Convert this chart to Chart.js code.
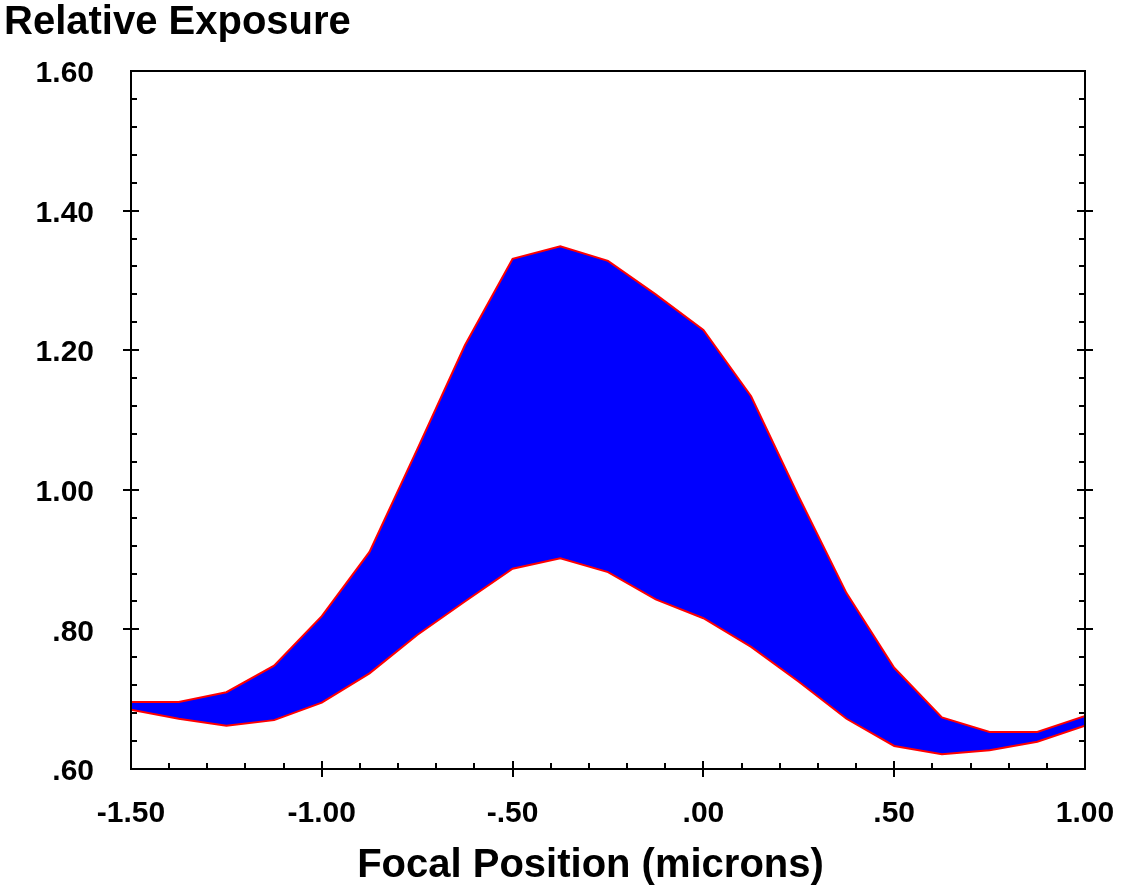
<!DOCTYPE html>
<html>
<head>
<meta charset="utf-8">
<script src="https://cdn.jsdelivr.net/npm/chart.js@4"></script>
<style>
  html, body { margin: 0; padding: 0; background: #fff; }
  #wrap { width: 1122px; height: 888px; }
</style>
</head>
<body>
<div id="wrap"><canvas id="c" width="1122" height="888"></canvas></div>
<script>
// ---- data ----
const focalPositions = [-1.5, -1.375, -1.25, -1.125, -1.0, -0.875, -0.75, -0.625, -0.5, -0.375, -0.25, -0.125, 0.0, 0.125, 0.25, 0.375, 0.5, 0.625, 0.75, 0.875, 1.0];
const upperExposure = [0.696, 0.696, 0.710, 0.748, 0.819, 0.911, 1.058, 1.207, 1.331, 1.349, 1.328, 1.280, 1.229, 1.134, 0.990, 0.852, 0.745, 0.674, 0.653, 0.653, 0.676];
const lowerExposure = [0.685, 0.672, 0.662, 0.670, 0.695, 0.737, 0.792, 0.840, 0.887, 0.902, 0.882, 0.843, 0.816, 0.775, 0.725, 0.672, 0.633, 0.621, 0.627, 0.639, 0.662];
const xTickValues = [-1.5, -1.0, -0.5, 0.0, 0.5, 1.0];
const xTickLabels = ['-1.50', '-1.00', '-.50', '.00', '.50', '1.00'];
const yTickValues = [0.6, 0.8, 1.0, 1.2, 1.4, 1.6];
const yTickLabels = ['.60', '.80', '1.00', '1.20', '1.40', '1.60'];
const xMinorStep = 0.1;
const yMinorStep = 0.04;
const titleText = 'Relative Exposure';
const xTitleText = 'Focal Position (microns)';

const FONT = "'Liberation Sans', Arial, Helvetica, sans-serif";

const upperPts = focalPositions.map((x, i) => ({x, y: upperExposure[i]}));
const lowerPts = focalPositions.map((x, i) => ({x, y: lowerExposure[i]}));
const outlinePts = upperPts.concat(lowerPts.slice().reverse(), [upperPts[0]]);

function labelFor(values, labels, v) {
  for (let i = 0; i < values.length; i++) if (Math.abs(values[i] - v) < 1e-6) return labels[i];
  return '';
}

const axisPlugin = {
  id: 'axisPlugin',
  afterDatasetsDraw(chart) {
    const ctx = chart.ctx;
    const xs = chart.scales.x, ys = chart.scales.y;
    const a = chart.chartArea;
    ctx.save();
    ctx.strokeStyle = '#000';
    ctx.lineWidth = 2;
    ctx.lineCap = 'butt';
    ctx.beginPath();
    ctx.rect(a.left, a.top, a.right - a.left, a.bottom - a.top);
    ctx.stroke();
    const MAJ = 8, MIN = 6;
    ctx.beginPath();
    const nY = Math.round((ys.max - ys.min) / yMinorStep);
    for (let i = 1; i < nY; i++) {
      const v = ys.min + i * yMinorStep;
      const py = Math.round(ys.getPixelForValue(v));
      ctx.moveTo(a.left, py); ctx.lineTo(a.left + MIN, py);
      ctx.moveTo(a.right, py); ctx.lineTo(a.right - MIN, py);
    }
    yTickValues.forEach(v => {
      if (v <= ys.min + 1e-9 || v >= ys.max - 1e-9) return;
      const py = Math.round(ys.getPixelForValue(v));
      ctx.moveTo(a.left - MAJ, py); ctx.lineTo(a.left + MAJ, py);
      ctx.moveTo(a.right - MAJ, py); ctx.lineTo(a.right + MAJ, py);
    });
    const nX = Math.round((xs.max - xs.min) / xMinorStep);
    for (let i = 1; i < nX; i++) {
      const v = xs.min + i * xMinorStep;
      const px = Math.round(xs.getPixelForValue(v));
      ctx.moveTo(px, a.bottom); ctx.lineTo(px, a.bottom - MIN);
    }
    xTickValues.forEach(v => {
      if (v <= xs.min + 1e-9 || v >= xs.max - 1e-9) return;
      const px = Math.round(xs.getPixelForValue(v));
      ctx.moveTo(px, a.bottom - MAJ); ctx.lineTo(px, a.bottom + MAJ);
    });
    ctx.stroke();
    ctx.fillStyle = '#000';
    ctx.font = 'bold 40px ' + FONT;
    ctx.textAlign = 'center';
    ctx.textBaseline = 'alphabetic';
    ctx.fillText(xTitleText, 590.5, 877);
    ctx.restore();
  }
};

new Chart(document.getElementById('c'), {
  type: 'line',
  data: {
    datasets: [
      {
        label: 'outline',
        data: outlinePts,
        borderColor: '#ff0000',
        borderWidth: 2,
        fill: false,
        pointRadius: 0,
        tension: 0
      },
      {
        label: 'upper',
        data: upperPts,
        borderWidth: 0,
        borderColor: 'rgba(0,0,0,0)',
        backgroundColor: '#0000ff',
        fill: '+1',
        pointRadius: 0,
        tension: 0
      },
      {
        label: 'lower',
        data: lowerPts,
        borderWidth: 0,
        borderColor: 'rgba(0,0,0,0)',
        fill: false,
        pointRadius: 0,
        tension: 0
      }
    ]
  },
  options: {
    responsive: false,
    animation: false,
    events: [],
    layout: { padding: { left: 4, right: 37, top: 0, bottom: 0 } },
    plugins: {
      legend: { display: false },
      tooltip: { enabled: false },
      title: {
        display: true,
        text: titleText,
        align: 'start',
        color: '#000',
        font: { family: FONT, size: 40, weight: 'bold', lineHeight: 1.05 },
        padding: { top: 2, bottom: 27 }
      }
    },
    scales: {
      x: {
        type: 'linear',
        min: -1.5,
        max: 1.0,
        afterBuildTicks(scale) { scale.ticks = xTickValues.map(v => ({value: v})); },
        afterFit(scale) { scale.height = 119; scale.paddingLeft = 0; scale.paddingRight = 0; },
        grid: { display: false, drawTicks: false, tickLength: 0 },
        border: { display: false },
        ticks: {
          color: '#000',
          padding: 27,
          maxRotation: 0,
          autoSkip: false,
          font: { family: FONT, size: 30, weight: 'bold', lineHeight: 1.2 },
          callback: (v) => labelFor(xTickValues, xTickLabels, v)
        }
      },
      y: {
        type: 'linear',
        min: 0.6,
        max: 1.6,
        afterBuildTicks(scale) { scale.ticks = yTickValues.map(v => ({value: v})); },
        afterFit(scale) { scale.width = 127; scale.paddingTop = 0; scale.paddingBottom = 0; },
        grid: { display: false, drawTicks: false, tickLength: 0 },
        border: { display: false },
        ticks: {
          color: '#000',
          padding: 37,
          labelOffset: 3,
          autoSkip: false,
          font: { family: FONT, size: 30, weight: 'bold', lineHeight: 1.2 },
          callback: (v) => labelFor(yTickValues, yTickLabels, v)
        }
      }
    }
  },
  plugins: [axisPlugin]
});
</script>
</body>
</html>
